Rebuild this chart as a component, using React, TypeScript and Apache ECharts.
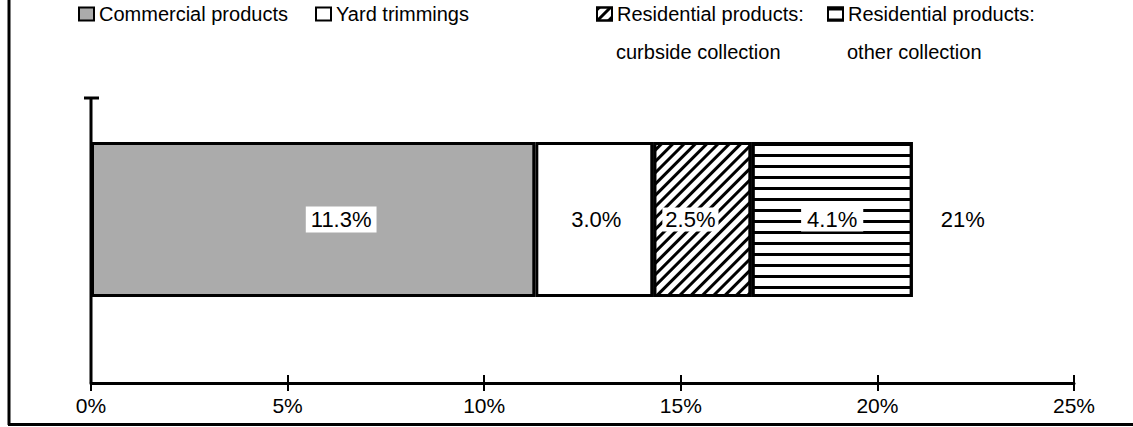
import React, { useEffect, useRef } from "react";
import * as echarts from "echarts";

const categories = ["MSW"];
const seriesNames = [
  "Commercial products",
  "Yard trimmings",
  "Residential products: curbside collection",
  "Residential products: other collection",
];
const legendLines = [
  ["Commercial products"],
  ["Yard trimmings"],
  ["Residential products:", "curbside collection"],
  ["Residential products:", "other collection"],
];
const values = [11.3, 3.0, 2.5, 4.1];
const valueLabels = ["11.3%", "3.0%", "2.5%", "4.1%"];
const totalLabel = "21%";
const xMin = 0;
const xMax = 25;
const xInterval = 5;

const FONT = "'Liberation Sans', Arial, Helvetica, sans-serif";

export default function App() {
  const ref = useRef<HTMLDivElement>(null);

  useEffect(() => {
    if (!ref.current) return;
    const chart = echarts.init(ref.current, undefined, { renderer: "svg" });

    const gridLeft = 91;
    const gridRight = 1133 - 1074;
    const axisY = 383;
    const gridTop = 56;
    const gridBottom = 427 - axisY;

    const itemStyles: any[] = [
      { color: "#ababab", borderColor: "#000", borderWidth: 3 },
      { color: "#ffffff", borderColor: "#000", borderWidth: 3 },
      {
        color: "#ffffff",
        borderColor: "#000",
        borderWidth: 3,
        decal: {
          symbol: "rect",
          symbolSize: 1,
          dashArrayX: [1, 0],
          dashArrayY: [2.5, 5],
          rotation: -Math.PI / 4,
          color: "#000",
        },
      },
      {
        color: "#ffffff",
        borderColor: "#000",
        borderWidth: 3,
        decal: {
          symbol: "rect",
          symbolSize: 1,
          dashArrayX: [1, 0],
          dashArrayY: [3, 8],
          rotation: 0,
          color: "#000",
        },
      },
    ];
    const labelBg = ["#fff", null, "#fff", "#fff"];
    const labelPad = [[2, 5], [0, 0], [1, 3], [1, 6]];
    const labelOffset = [[28, 0], [2, 0], [-12, 0], [0, 0]];

    const legendLefts = [78, 315, 596, 827];

    const total = values.reduce((a, b) => a + b, 0);

    const barSeries = seriesNames.map((name, i) => ({
      type: "bar",
      name,
      stack: "total",
      barWidth: 155,
      data: [values[i]],
      itemStyle: itemStyles[i],
      label: {
        show: true,
        position: "inside",
        offset: labelOffset[i],
        formatter: () => valueLabels[i],
        fontFamily: FONT,
        fontSize: 22,
        color: "#000",
        backgroundColor: labelBg[i] || "transparent",
        padding: labelPad[i],
      },
      emphasis: { disabled: true },
    }));

    const secondLines: any[] = [];
    legendLines.forEach((lines, i) => {
      if (lines.length > 1) {
        secondLines.push({
          type: "text",
          x: legendLefts[i] + 15 + 5,
          y: 52,
          style: {
            text: lines[1],
            fontFamily: FONT,
            fontSize: 20,
            fill: "#000",
            verticalAlign: "middle",
            align: "left",
          },
        });
      }
    });

    const option: any = {
      animation: false,
      grid: { left: gridLeft, right: gridRight, top: gridTop, bottom: gridBottom },
      legend: seriesNames.map((name, i) => ({
        data: [name],
        left: legendLefts[i],
        top: 4,
        padding: 0,
        itemWidth: 15,
        itemHeight: 13,
        icon: "rect",
        selectedMode: false,
        itemStyle: { borderColor: "#000", borderWidth: 2 },
        formatter: () => legendLines[i][0],
        textStyle: {
          fontFamily: FONT,
          fontSize: 20,
          color: "#000",
          lineHeight: 20,
        },
      })),
      xAxis: [
        {
          type: "value",
          min: xMin,
          max: xMax,
          interval: xInterval,
          splitLine: { show: false },
          axisLine: { show: true, lineStyle: { color: "#000", width: 3 } },
          axisTick: { show: true, length: 8, lineStyle: { color: "#000", width: 2 } },
          axisLabel: {
            formatter: "{value}%",
            fontFamily: FONT,
            fontSize: 21,
            color: "#000",
            margin: 12,
          },
        },
        {
          type: "value",
          position: "bottom",
          min: xMin,
          max: xMax,
          interval: xInterval,
          splitLine: { show: false },
          axisLine: { show: false },
          axisTick: { show: true, inside: true, length: 8, lineStyle: { color: "#000", width: 2 } },
          axisLabel: { show: false },
        },
      ],
      yAxis: {
        type: "category",
        data: categories,
        axisLine: { show: false },
        axisTick: { show: false },
        axisLabel: { show: false },
      },
      series: [
        ...barSeries,
        {
          type: "scatter",
          name: "total",
          symbolSize: 0,
          itemStyle: { opacity: 1 },
          data: [[total, categories[0]]],
          label: {
            show: true,
            position: "right",
            distance: 28,
            formatter: () => totalLabel,
            fontFamily: FONT,
            fontSize: 22,
            color: "#000",
            opacity: 1,
          },
          emphasis: { disabled: true },
        },
      ],
      graphic: [
        {
          type: "line",
          shape: { x1: gridLeft, y1: 98, x2: gridLeft, y2: axisY },
          style: { stroke: "#000", lineWidth: 3 },
        },
        {
          type: "line",
          shape: { x1: gridLeft - 7, y1: 98, x2: gridLeft + 8, y2: 98 },
          style: { stroke: "#000", lineWidth: 3 },
        },
        {
          type: "line",
          shape: { x1: 9, y1: 0, x2: 9, y2: 425 },
          style: { stroke: "#000", lineWidth: 3 },
        },
        {
          type: "line",
          shape: { x1: 8, y1: 424.5, x2: 1133, y2: 424.5 },
          style: { stroke: "#000", lineWidth: 3 },
        },
        ...secondLines,
      ],
    };

    chart.setOption(option);
    return () => chart.dispose();
  }, []);

  return (
    <div
      ref={ref}
      style={{ position: "absolute", left: 0, top: 0, width: 1133, height: 427, background: "#fff" }}
    />
  );
}
